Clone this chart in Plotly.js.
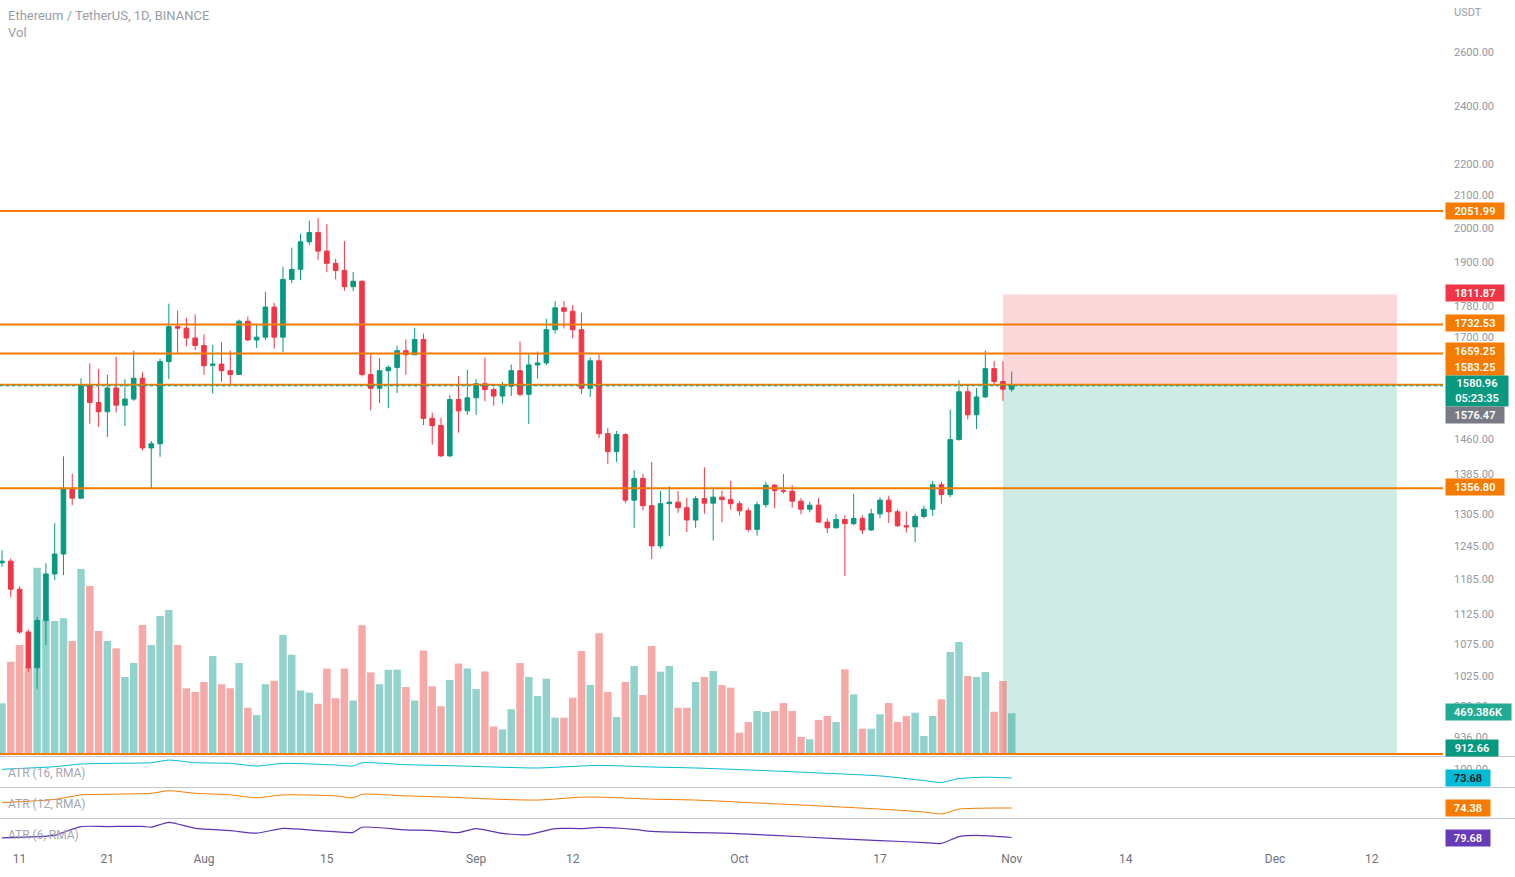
<!DOCTYPE html>
<html><head><meta charset="utf-8">
<script src="https://cdn.plot.ly/plotly-3.0.1.min.js"></script>
<style>html,body{margin:0;padding:0;background:#fff;overflow:hidden}#chart{width:1515px;height:877px}</style>
</head><body><div id="chart"></div>
<script>
const dates = [
'2022-07-09','2022-07-10','2022-07-11','2022-07-12','2022-07-13','2022-07-14','2022-07-15','2022-07-16','2022-07-17','2022-07-18',
'2022-07-19','2022-07-20','2022-07-21','2022-07-22','2022-07-23','2022-07-24','2022-07-25','2022-07-26','2022-07-27','2022-07-28',
'2022-07-29','2022-07-30','2022-07-31','2022-08-01','2022-08-02','2022-08-03','2022-08-04','2022-08-05','2022-08-06','2022-08-07',
'2022-08-08','2022-08-09','2022-08-10','2022-08-11','2022-08-12','2022-08-13','2022-08-14','2022-08-15','2022-08-16','2022-08-17',
'2022-08-18','2022-08-19','2022-08-20','2022-08-21','2022-08-22','2022-08-23','2022-08-24','2022-08-25','2022-08-26','2022-08-27',
'2022-08-28','2022-08-29','2022-08-30','2022-08-31','2022-09-01','2022-09-02','2022-09-03','2022-09-04','2022-09-05','2022-09-06',
'2022-09-07','2022-09-08','2022-09-09','2022-09-10','2022-09-11','2022-09-12','2022-09-13','2022-09-14','2022-09-15','2022-09-16',
'2022-09-17','2022-09-18','2022-09-19','2022-09-20','2022-09-21','2022-09-22','2022-09-23','2022-09-24','2022-09-25','2022-09-26',
'2022-09-27','2022-09-28','2022-09-29','2022-09-30','2022-10-01','2022-10-02','2022-10-03','2022-10-04','2022-10-05','2022-10-06',
'2022-10-07','2022-10-08','2022-10-09','2022-10-10','2022-10-11','2022-10-12','2022-10-13','2022-10-14','2022-10-15','2022-10-16',
'2022-10-17','2022-10-18','2022-10-19','2022-10-20','2022-10-21','2022-10-22','2022-10-23','2022-10-24','2022-10-25','2022-10-26',
'2022-10-27','2022-10-28','2022-10-29','2022-10-30','2022-10-31','2022-11-01'];

const openP = [
1214,1217,1167,1095,1038,1114,1194,1230,1356,1337,
1583,1542,1521,1576,1536,1550,1599,1441,1450,1639,
1727,1723,1698,1679,1630,1633,1617,1608,1741,1693,
1700,1778,1700,1853,1881,1960,1987,1933,1898,1878,
1833,1848,1608,1575,1617,1625,1666,1656,1694,1506,
1490,1424,1549,1523,1553,1586,1572,1557,1580,1617,
1561,1631,1636,1719,1776,1767,1719,1575,1641,1472,
1433,1470,1333,1377,1322,1245,1326,1329,1318,1294,
1336,1327,1339,1334,1326,1312,1276,1324,1363,1352,
1351,1331,1315,1323,1290,1279,1295,1287,1297,1275,
1306,1333,1310,1283,1281,1301,1315,1364,1344,1459,
1567,1514,1555,1622,1591,1573];

const highP = [
1237,1222,1172,1099,1120,1213,1288,1423,1386,1599,
1635,1621,1607,1651,1597,1666,1613,1456,1646,1787,
1769,1750,1759,1707,1680,1687,1666,1745,1753,1734,
1819,1789,1888,1943,1984,2023,2031,2012,1911,1962,
1874,1850,1658,1647,1630,1678,1694,1724,1709,1519,
1507,1559,1604,1619,1597,1649,1577,1590,1632,1689,
1658,1664,1747,1794,1794,1783,1763,1649,1656,1485,
1478,1473,1394,1386,1411,1351,1361,1351,1338,1341,
1400,1356,1352,1372,1331,1318,1330,1370,1366,1386,
1363,1337,1330,1337,1297,1306,1303,1345,1303,1316,
1339,1342,1315,1311,1306,1322,1372,1370,1526,1594,
1579,1576,1666,1641,1640,1615];

const lowP = [
1207,1153,1092,1032,1006,1074,1183,1192,1323,1335,
1494,1487,1465,1519,1489,1546,1436,1357,1422,1597,
1658,1677,1668,1607,1563,1591,1586,1607,1690,1673,
1693,1671,1662,1843,1851,1951,1908,1873,1853,1822,
1821,1603,1524,1541,1529,1564,1607,1655,1491,1448,
1422,1422,1474,1514,1514,1545,1535,1540,1557,1556,
1493,1598,1630,1709,1722,1697,1562,1555,1462,1407,
1411,1327,1279,1313,1221,1240,1263,1308,1271,1279,
1306,1255,1290,1314,1303,1271,1264,1318,1317,1346,
1318,1305,1309,1289,1269,1278,1190,1284,1267,1273,
1298,1288,1281,1270,1252,1297,1302,1326,1339,1457,
1504,1482,1553,1581,1546,1567];

const closeP = [
1217,1167,1095,1038,1114,1194,1230,1356,1337,1583,
1542,1521,1576,1536,1550,1599,1441,1450,1639,1727,
1723,1698,1679,1629,1633,1617,1608,1741,1693,1700,
1778,1700,1853,1881,1960,1987,1933,1898,1878,1833,
1848,1608,1575,1617,1625,1666,1656,1694,1506,1490,
1424,1549,1523,1553,1586,1572,1557,1580,1617,1561,
1631,1636,1719,1776,1767,1719,1575,1641,1472,1433,
1470,1333,1377,1322,1245,1326,1329,1318,1294,1336,
1327,1339,1334,1326,1312,1276,1324,1363,1352,1351,
1331,1315,1323,1290,1279,1295,1287,1297,1275,1306,
1333,1310,1283,1281,1301,1315,1364,1344,1459,1567,
1514,1555,1622,1591,1573,1580.96];

const volumeK = [
582,1050,1238,994,2108,1527,1508,1539,1283,2094,
1902,1396,1283,1201,878,1036,1463,1238,1565,1632,
1238,751,709,822,1114,796,751,1036,532,450,
797,835,1351,1129,726,702,577,973,640,973,
613,1461,930,797,961,961,765,613,1176,773,
550,844,1031,973,742,941,320,288,516,1035,
878,664,859,420,420,645,1171,788,1370,709,
428,822,1002,675,1227,938,1002,532,532,822,
878,946,788,758,251,371,495,484,495,585,
495,203,177,394,439,371,965,683,296,296,
458,585,371,439,476,214,439,627,1159,1272,
889,878,934,487,833,469.386];

// ATR readings
const atr16Dates = ['2022-07-09','2022-07-15','2022-07-18','2022-07-21','2022-07-26','2022-07-28','2022-07-31','2022-08-04','2022-08-07','2022-08-10','2022-08-16','2022-08-18','2022-08-19','2022-08-24','2022-08-29','2022-09-03','2022-09-08','2022-09-13','2022-09-15','2022-09-21','2022-09-26','2022-10-03','2022-10-10','2022-10-17','2022-10-22','2022-10-24','2022-10-26','2022-10-29','2022-11-01'];
const atr16Vals = [100,108,116,118,120,128,120,118,110,118,113,110,120,114,111,107,104,110,112,107,104,97,89,80,66,60,72,76,73.68];
const atr12Dates = atr16Dates;
const atr12Vals = [91,101,115,117,120,128,120,115,106,115,112,106,117,112,108,102,99,108,108,102,99,90,81,71,62,56,71,74,74.38];
const atr6Dates = ['2022-07-09','2022-07-15','2022-07-16','2022-07-18','2022-07-21','2022-07-25','2022-07-26','2022-07-28','2022-07-31','2022-08-04','2022-08-07','2022-08-10','2022-08-14','2022-08-18','2022-08-19','2022-08-24','2022-08-27','2022-08-30','2022-09-01','2022-09-04','2022-09-07','2022-09-10','2022-09-13','2022-09-15','2022-09-19','2022-09-21','2022-09-26','2022-09-30','2022-10-05','2022-10-12','2022-10-17','2022-10-22','2022-10-24','2022-10-26','2022-10-28','2022-11-01'];
const atr6Vals = [78,89,103,129,129,130,126,148,121,111,99,121,111,103,126,114,111,102,120,98,93,120,120,125,116,107,102,98,89,75,66,57,53,84,89,79.68];

const hLines = [2051.99, 1732.53, 1659.25, 1583.25, 1356.80, 912.66];
const lastPrice = 1580.96;
const posEntry = 1583.25, posStop = 1811.87, posTarget = 912.66;
const posStart = '2022-10-31', posEnd = '2022-12-14 21:00';

const priceTicks = [936, 980, 1025, 1075, 1125, 1185, 1245, 1305, 1385, 1460, 1700, 1780, 1900, 2000, 2100, 2200, 2400, 2600];
const xTickDates = ['2022-07-11','2022-07-21','2022-08-01','2022-08-15','2022-09-01','2022-09-12','2022-10-01','2022-10-17','2022-11-01','2022-11-14','2022-12-01','2022-12-12'];
const xTickText = ['11','21','Aug','15','Sep','12','Oct','17','Nov','14','Dec','12'];

// ---- layout geometry ----
const PW = 1443, PH = 850;
const py = p => (PH - p) / PH;
const pxp = p => p / PW;

const GREEN = '#089981', RED = '#F23645', ORANGE = '#F57C00';
const FONT = 'Roboto, "Open Sans", sans-serif';

const volColors = closeP.map((c, i) => c >= openP[i] ? 'rgba(38,166,154,0.5)' : 'rgba(239,83,80,0.5)');

const traces = [
  {type:'bar', x:dates, y:volumeK.map(v => v*1000), marker:{color:volColors, line:{width:0}}, xaxis:'x', yaxis:'y', hoverinfo:'skip'},
  {type:'candlestick', x:dates, open:openP, high:highP, low:lowP, close:closeP, xaxis:'x', yaxis:'y2',
   increasing:{line:{color:GREEN, width:1}, fillcolor:GREEN},
   decreasing:{line:{color:RED, width:1}, fillcolor:RED}, whiskerwidth:0, hoverinfo:'skip'},
  {type:'scatter', mode:'lines', x:atr16Dates, y:atr16Vals, line:{color:'#00BCD4', width:1, shape:'spline', smoothing:0.6}, xaxis:'x', yaxis:'y3', hoverinfo:'skip'},
  {type:'scatter', mode:'lines', x:atr12Dates, y:atr12Vals, line:{color:ORANGE, width:1, shape:'spline', smoothing:0.6}, xaxis:'x', yaxis:'y4', hoverinfo:'skip'},
  {type:'scatter', mode:'lines', x:atr6Dates, y:atr6Vals, line:{color:'#5E35B1', width:1.2, shape:'spline', smoothing:0.6}, xaxis:'x', yaxis:'y5', hoverinfo:'skip'}
];

const shapes = [];
shapes.push({type:'rect', xref:'x', yref:'y2', x0:posStart, x1:posEnd, y0:posEntry, y1:posStop, fillcolor:'rgba(242,54,69,0.2)', line:{width:0}, layer:'below'});
shapes.push({type:'rect', xref:'x', yref:'y2', x0:posStart, x1:posEnd, y0:posTarget, y1:posEntry, fillcolor:'rgba(8,153,129,0.2)', line:{width:0}, layer:'below'});
hLines.forEach(v => shapes.push({type:'line', xref:'paper', yref:'y2', x0:0, x1:1, y0:v, y1:v, line:{color:ORANGE, width:2}, layer:'above'}));
shapes.push({type:'line', xref:'paper', yref:'y2', x0:0, x1:1, y0:lastPrice, y1:lastPrice, line:{color:GREEN, width:1, dash:'dot'}, layer:'above'});
[756.5, 787.5, 818.5].forEach(p => shapes.push({type:'line', xref:'paper', yref:'paper', x0:0, x1:1515/PW, y0:py(p), y1:py(p), line:{color:'#c4c7ce', width:1}}));

const ann = [];
function box(text, pyy, bg, opts) {
  opts = opts || {};
  ann.push({xref:'paper', yref:'paper', x:pxp(1445), y:py(pyy), xanchor:'left', yanchor:'middle', text:text, showarrow:false,
    bgcolor:bg, borderpad:0, width:opts.w || 58, height:opts.h || 16, align:'center',
    font:{family:FONT, size:11, color:opts.color || '#ffffff', weight:600}});
}
box('2051.99', 211, ORANGE);
box('1811.87', 293, RED);
box('1732.53', 323, ORANGE);
box('1659.25', 351, ORANGE, {h:17});
box('1583.25', 367, ORANGE, {h:16});
box('1580.96<br>05:23:35', 391, GREEN, {w:62, h:30});
box('1576.47', 415, '#787B86');
box('1356.80', 487, ORANGE);
box('469.386K', 712, '#22AB94', {w:65});
box('912.66', 748, GREEN, {w:52});
box('73.68', 778, '#00BCD4', {w:44, color:'#131722'});
box('74.38', 808, ORANGE, {w:44});
box('79.68', 838, '#673AB7', {w:44});

function label(text, x, y, size, color) {
  ann.push({xref:'paper', yref:'paper', x:pxp(x), y:py(y), xanchor:'left', yanchor:'middle', text:text, showarrow:false,
    font:{family:FONT, size:size, color:color}});
}
label('Ethereum / TetherUS, 1D, BINANCE', 6, 16, 13, '#9a9da6');
label('Vol', 6, 33, 13, '#9a9da6');
label('USDT', 1452, 13, 11, '#9a9da6');
label('ATR (16, RMA)', 6, 773, 12, '#a3a6ae');
label('ATR (12, RMA)', 6, 804, 12, '#a3a6ae');
label('ATR (6, RMA)', 6, 835, 12, '#a3a6ae');

const mainDomain = [py(755), 1];
const lo = 911.3, hi = 2811.6;

const layout = {
  width:1515, height:877,
  margin:{l:0, r:72, t:0, b:27, pad:0},
  paper_bgcolor:'#ffffff', plot_bgcolor:'#ffffff',
  showlegend:false, hovermode:false, dragmode:false,
  bargap:0.15, boxgap:0.25,
  font:{family:FONT, color:'#787B86'},
  xaxis:{type:'date', range:['2022-07-08 18:30','2022-12-20 03:00'], anchor:'y5', showgrid:false, zeroline:false, showline:false,
    ticks:'', tickvals:xTickDates, ticktext:xTickText, tickfont:{size:12, color:'#6f727c', family:FONT},
    rangeslider:{visible:false}, fixedrange:true},
  yaxis:{domain:mainDomain, range:[0, 8.5e6], visible:false, showgrid:false, fixedrange:true},
  yaxis2:{overlaying:'y', type:'log', side:'right', range:[Math.log10(lo), Math.log10(hi)], showgrid:false, zeroline:false,
    ticks:'', tickvals:priceTicks, ticktext:priceTicks.map(v => v.toFixed(2)), tickfont:{size:11, color:'#9598A1', family:FONT},
    ticklabelstandoff:10, fixedrange:true},
  yaxis3:{domain:[py(787), py(757)], range:[46.4, 137.3], side:'right', showgrid:false, zeroline:false, ticks:'',
    tickvals:[100], ticktext:['100.00'], tickfont:{size:11, color:'#9598A1', family:FONT}, ticklabelstandoff:10, fixedrange:true},
  yaxis4:{domain:[py(818), py(788)], range:[43.4, 136.4], side:'right', showgrid:false, zeroline:false, showticklabels:false, ticks:'', fixedrange:true},
  yaxis5:{domain:[0, py(819)], range:[23.4, 163], side:'right', showgrid:false, zeroline:false, showticklabels:false, ticks:'', fixedrange:true},
  shapes:shapes,
  annotations:ann
};

Plotly.newPlot('chart', traces, layout, {displayModeBar:false, staticPlot:true});
</script>
</body></html>
